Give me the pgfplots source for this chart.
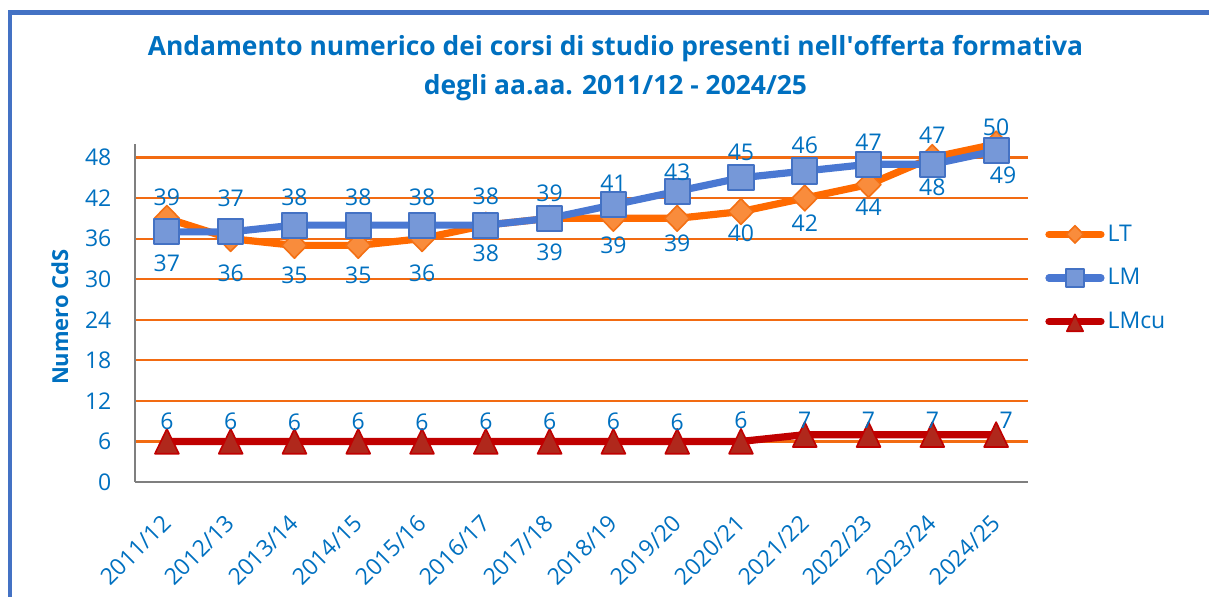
\documentclass[border=0pt]{standalone}
\usepackage{pgfplots}
\pgfplotsset{compat=1.18}
\usepackage{fontspec}
\setmainfont{Open Sans}
\definecolor{txtblue}{HTML}{0070C0}
\definecolor{gridor}{HTML}{F26B12}
\definecolor{ltline}{HTML}{FF6A00}
\definecolor{ltfill}{HTML}{F98C3C}
\definecolor{ltedge}{HTML}{F47014}
\definecolor{lmline}{HTML}{4A78D2}
\definecolor{lmfill}{HTML}{7698D8}
\definecolor{lmedge}{HTML}{4472C4}
\definecolor{culine}{HTML}{C00000}
\definecolor{cufill}{HTML}{B0281C}
\definecolor{framecol}{HTML}{4472C4}
\definecolor{axgray}{HTML}{7F7F7F}
\newcommand{\lblfont}{\fontsize{11.5}{14}\selectfont}

\pgfplotstableread{
x y d e
0 39 21 0
1 36 -35 0
2 35 -30 0
3 35 -30 0
4 36 -35 0
5 38 -28.5 0
6 39 -34 0
7 39 -27 0
8 39 -25 0
9 40 -22 0
10 42 -25.5 0
11 44 -23 0
12 48 -30 0
13 50 16.5 0
}\tabLT
\pgfplotstableread{
x y d e
0 37 -31 0
1 37 34 0
2 38 27.5 0
3 38 27.5 0
4 38 27.5 0
5 38 28.5 0
6 39 25 0
7 41 22 0
8 43 19 0
9 45 25 0
10 46 25.5 0
11 47 22 0
12 47 29 0
13 49 -25 7
}\tabLM
\pgfplotstableread{
x y d e
0 6 24 0
1 6 24 0
2 6 23 0
3 6 24 0
4 6 23 0
5 6 24 0
6 6 24 0
7 6 24 0
8 6 23 0
9 6 25 0
10 7 18 0
11 7 18 0
12 7 18 0
13 7 18 10
}\tabCU

\begin{document}
\begin{tikzpicture}[x=0.5pt,y=0.5pt]
\path[use as bounding box] (0,0) rectangle (1209,597);
\draw[framecol, line width=2.2pt] (10,-20) -- (10,584.5) -- (1240,584.5);
\node[font=\fontsize{13.2}{19.5}\selectfont\bfseries, text=txtblue, align=center] at (615.5,528.5)
  {Andamento numerico dei corsi di studio presenti nell\textquotesingle offerta formativa\\degli aa.aa. 2011/12 - 2024/25};
\begin{axis}[
  at={(67.5pt,57.5pt)}, anchor=south west,
  scale only axis, width=446.5pt, height=169pt,
  xmin=-0.5, xmax=13.5, ymin=0, ymax=50,
  xtick={0,...,13},
  xticklabels={2011/12,2012/13,2013/14,2014/15,2015/16,2016/17,2017/18,2018/19,2019/20,2020/21,2021/22,2022/23,2023/24,2024/25},
  ytick={0,6,...,48},
  axis lines*=left,
  axis line style={draw=axgray, line width=1.3pt},
  major tick length=0pt,
  ymajorgrids, grid style={gridor, line width=1.1pt},
  tick label style={font=\lblfont, text=txtblue},
  yticklabel style={xshift=-8.3pt},
  xticklabel style={yshift=-18.5pt, rotate=45, anchor=east, inner sep=0pt},
  ylabel={Numero CdS},
  ylabel style={font=\fontsize{11}{14}\selectfont\bfseries, text=txtblue, at={(axis description cs:-0.084,0.488)}, anchor=center},
  /pgf/number format/assume math mode=true,
  clip=false,
  legend style={draw=none, fill=none, at={(1.019,0.6036)}, anchor=west, inner sep=0pt, font=\lblfont, text=txtblue, row sep=7.8pt, nodes={text height=9pt, text depth=2pt, inner sep=1.5pt, text=txtblue}},
  legend cell align=left,
  legend image code/.code={%
    \draw[mark repeat=2, mark phase=2, #1, line cap=round, /tikz/every mark/.append style={scale=0.68}] plot coordinates {(0pt,0pt) (13pt,0pt) (26pt,0pt)};},
]
\addplot[ltline, line width=3.6pt, line join=round, mark=diamond*, mark size=6.4pt,
  mark options={fill=ltfill, draw=ltedge, line width=0.8pt, xscale=1.3},
  nodes near coords, visualization depends on={\thisrow{d}\as\labd}, visualization depends on={\thisrow{e}\as\labe},
  every node near coord/.style={anchor=center, yshift=\labd*0.5pt, xshift=\labe*0.5pt, font=\lblfont, text=txtblue, inner sep=0pt}]
  table[x=x, y=y] {\tabLT};
\addlegendentry{LT}
\addplot[lmline, line width=3.6pt, line join=round, mark=square*, mark size=6.3pt,
  mark options={fill=lmfill, draw=lmedge, line width=1pt},
  nodes near coords, visualization depends on={\thisrow{d}\as\labd}, visualization depends on={\thisrow{e}\as\labe},
  every node near coord/.style={anchor=center, yshift=\labd*0.5pt, xshift=\labe*0.5pt, font=\lblfont, text=txtblue, inner sep=0pt}]
  table[x=x, y=y] {\tabLM};
\addlegendentry{LM}
\addplot[culine, line width=3.6pt, line join=round, mark=triangle*, mark size=6.9pt,
  mark options={fill=cufill, draw=culine, line width=0.8pt, yshift=-2pt, yscale=1.2},
  nodes near coords, visualization depends on={\thisrow{d}\as\labd}, visualization depends on={\thisrow{e}\as\labe},
  every node near coord/.style={anchor=center, yshift=\labd*0.5pt, xshift=\labe*0.5pt, font=\lblfont, text=txtblue, inner sep=0pt}]
  table[x=x, y=y] {\tabCU};
\addlegendentry{LMcu}
\end{axis}
\end{tikzpicture}
\end{document}
